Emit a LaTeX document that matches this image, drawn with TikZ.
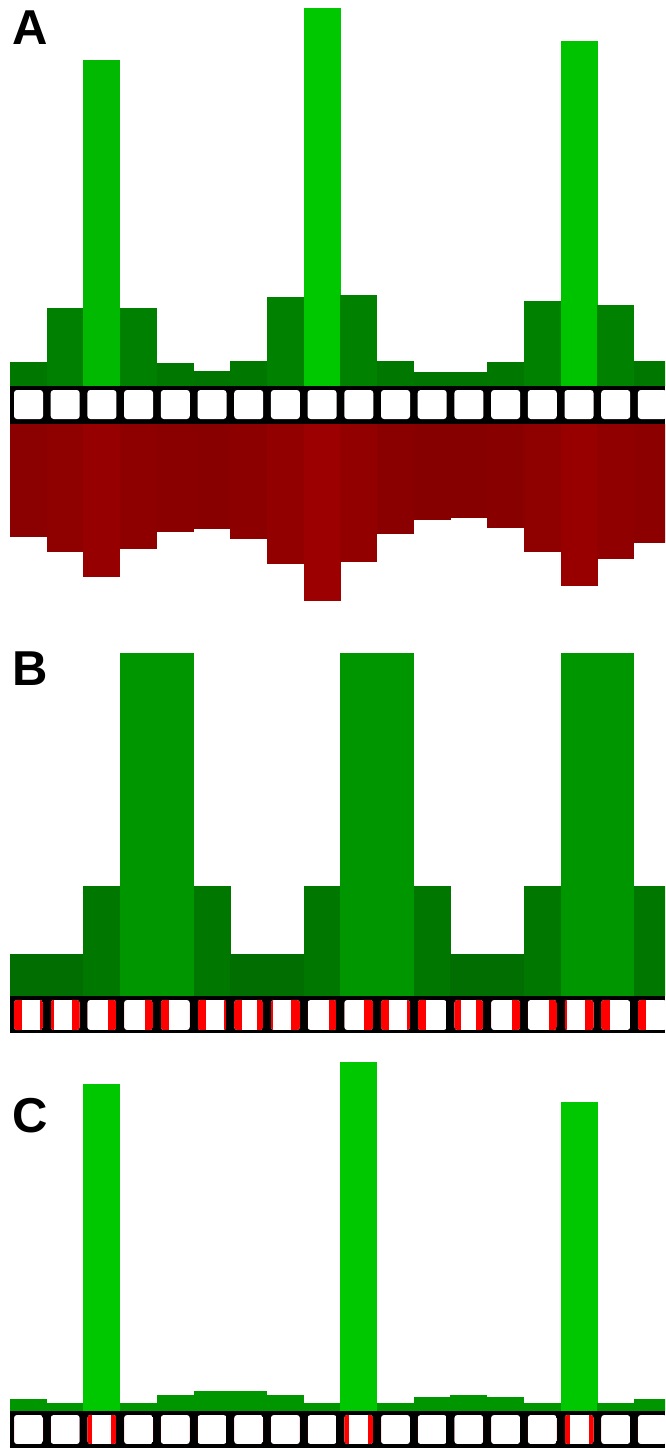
\documentclass[tikz,border=0pt]{standalone}
\usepackage{fontspec}
\newfontfamily\labfont{Liberation Sans}
\begin{document}
\begin{tikzpicture}[x=1pt,y=-1pt]
\tikzset{
  lab/.style={font=\labfont\bfseries\fontsize{49}{49}\selectfont, inner sep=0pt, text=black},
  cellbox/.style={fill=white, rounded corners=3pt},
  stripband/.style={fill=black},
  redmark/.style={fill=red},
}
\useasboundingbox (0,0) rectangle (665,1448);
\clip (0,0) rectangle (665,1448);

% ---------- Panel A: green bars ----------
\foreach \t/\g [count=\i from 0] in {362/120,308/128,60/185,308/128,363/120,371/118,361/120,297/130,8/200,295/130,361/120,372/118,372/118,362/120,301/130,41/195,305/129,361/120}{
  \pgfmathsetmacro\xl{10+36.7*\i}
  \definecolor{cur}{RGB}{0,\g,0}
  \fill[cur] (\xl,\t) rectangle (\xl+37,386);
}
% ---------- Panel A: red bars ----------
\foreach \b/\r [count=\i from 0] in {537/139,552/143,577/150,549/142,532/138,529/137,539/140,564/146,601/156,562/146,534/138,520/135,518/134,528/137,552/143,586/152,559/145,543/141}{
  \pgfmathsetmacro\xl{10+36.7*\i}
  \definecolor{cur}{RGB}{\r,0,0}
  \fill[cur] (\xl,424) rectangle (\xl+37,\b);
}
% ---------- Panel A strip ----------
\fill[stripband] (10,386) rectangle (665,424);
\foreach \i in {0,...,17}{
  \fill[cellbox] (14+36.7*\i,390) rectangle ++(29,29);
}

% ---------- Panel B: green bars ----------
\foreach \t/\g [count=\i from 0] in {954/110,954/110,886/120,653/150,653/150,886/120,954/110,954/110,886/120,653/150,653/150,886/120,954/110,954/110,886/120,653/150,653/150,886/120}{
  \pgfmathsetmacro\xl{10+36.7*\i}
  \definecolor{cur}{RGB}{0,\g,0}
  \fill[cur] (\xl,\t) rectangle (\xl+37,996);
}
\fill[stripband] (10,996) rectangle (665,1033);
\foreach \L/\R [count=\i from 0] in {8/3,3/8,0/8,0/8,8/0,8/3,8/6,2/9,0/8,0/9,8/3,8/0,7/7,0/8,0/8,2/9,9/0,8/0}{
  \pgfmathsetmacro\bx{14+36.7*\i}
  \begin{scope}
    \clip[rounded corners=3pt] (\bx,1000) rectangle ++(29,30);
    \fill[white] (\bx,1000) rectangle ++(29,30);
    \fill[redmark] (\bx,1000) rectangle ++(\L,30);
    \fill[redmark] (\bx+29,1000) rectangle ++(-\R,30);
  \end{scope}
}

% ---------- Panel C: green bars ----------
\foreach \t/\g [count=\i from 0] in {1399/150,1403/150,1084/200,1403/150,1395/150,1391/150,1391/150,1395/150,1403/150,1062/200,1403/150,1397/150,1395/150,1397/150,1403/150,1102/200,1403/150,1399/150}{
  \pgfmathsetmacro\xl{10+36.7*\i}
  \definecolor{cur}{RGB}{0,\g,0}
  \fill[cur] (\xl,\t) rectangle (\xl+37,1411);
}
\fill[stripband] (10,1411) rectangle (665,1448);
\foreach \L/\R [count=\i from 0] in {0/0,0/0,5/5,0/0,0/0,0/0,0/0,0/0,0/0,5/5,0/0,0/0,0/0,0/0,0/0,5/5,0/0,0/0}{
  \pgfmathsetmacro\bx{14+36.7*\i}
  \begin{scope}
    \clip[rounded corners=3pt] (\bx,1415) rectangle ++(29,29);
    \fill[white] (\bx,1415) rectangle ++(29,29);
    \fill[redmark] (\bx,1415) rectangle ++(\L,29);
    \fill[redmark] (\bx+29,1415) rectangle ++(-\R,29);
  \end{scope}
}

% ---------- Labels ----------
\node[lab] (labA) at (30.5,27.5) {A};
\node[lab] (labB) at (30.5,668.5) {B};
\node[lab] (labC) at (30.5,1116) {C};
\end{tikzpicture}
\end{document}
